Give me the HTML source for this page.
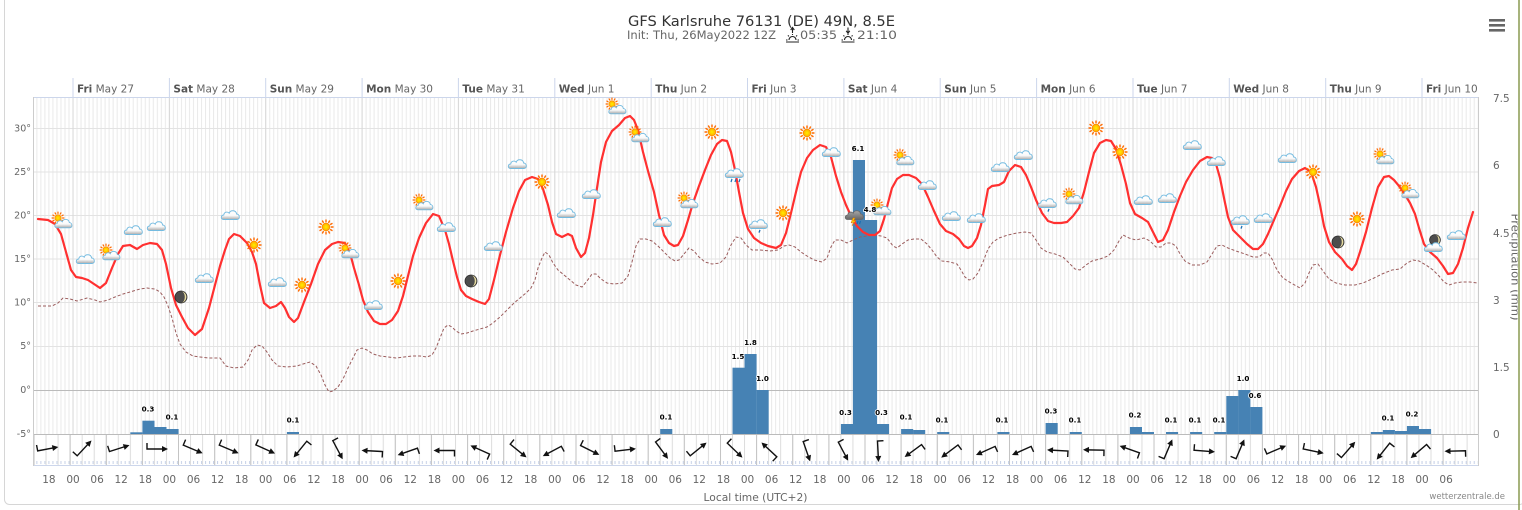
<!DOCTYPE html>
<html><head><meta charset="utf-8"><style>
html,body{margin:0;padding:0;background:#fff;}
svg{display:block;}
text{font-family:"DejaVu Sans","Liberation Sans",sans-serif;}
</style></head><body>
<svg width="1522" height="510" viewBox="0 0 1522 510" xmlns="http://www.w3.org/2000/svg">
<defs>
<pattern id="vg" patternUnits="userSpaceOnUse" x="72.5" y="0" width="4.015" height="600"><rect width="1" height="600" fill="#e9e9e9"/></pattern>
<pattern id="wg" patternUnits="userSpaceOnUse" x="33.5" y="0" width="12.043" height="600"><rect width="1" height="600" fill="#dcdcdc"/></pattern>
<pattern id="tk" patternUnits="userSpaceOnUse" x="72.5" y="461" width="4.015" height="600"><rect width="1" height="3" fill="#c5d0e6"/></pattern>
<linearGradient id="cg" x1="0" y1="0" x2="0" y2="1"><stop offset="0" stop-color="#fff"/><stop offset="0.55" stop-color="#fafafa"/><stop offset="1" stop-color="#a8a8a8"/></linearGradient>
<linearGradient id="dg" x1="0" y1="0" x2="0" y2="1"><stop offset="0" stop-color="#a8a8a8"/><stop offset="1" stop-color="#666"/></linearGradient>
<radialGradient id="sg"><stop offset="0" stop-color="#fff000"/><stop offset="1" stop-color="#ffaa00"/></radialGradient>
<clipPath id="rc1"><rect x="1490" y="0" width="27.5" height="510"/></clipPath>
<g id="cl"><path d="M-7.5,4.5 C-10.5,4.5 -10.5,0.2 -7.2,0 C-7,-3 -3.5,-3.8 -1.8,-1.8 C-0.8,-5.2 5,-5.2 5.6,-1 C8.8,-1 9.5,4.5 6,4.5 Z" fill="url(#cg)" stroke="#74bbe0" stroke-width="0.9"/></g>
<g id="sun"><path d="M4.8,0L7.5,0 M4.16,2.4L6.5,3.75 M2.4,4.16L3.75,6.5 M0,4.8L0,7.5 M-2.4,4.16L-3.75,6.5 M-4.16,2.4L-6.5,3.75 M-4.8,0L-7.5,0 M-4.16,-2.4L-6.5,-3.75 M-2.4,-4.16L-3.75,-6.5 M0,-4.8L0,-7.5 M2.4,-4.16L3.75,-6.5 M4.16,-2.4L6.5,-3.75" stroke="#ff6a00" stroke-width="1.4"/><circle r="3.8" fill="url(#sg)" stroke="#ff8c00" stroke-width="0.8"/></g>
<g id="sc"><use href="#sun" transform="translate(-3,-3) scale(0.85)"/><use href="#cl" transform="translate(3,2.5) scale(0.95)"/></g>
<g id="mn"><circle r="6" fill="#4d4d4d" stroke="#2a2a2a" stroke-width="0.8"/><path d="M0.5,-5.9 A6,6 0 0 1 0.5,5.9 A4,6 0 0 0 0.5,-5.9 Z" fill="#e6dba0"/></g>
<g id="mc"><use href="#mn" transform="translate(0,-3) scale(0.9)"/><use href="#cl" transform="translate(-1,4)"/></g>
<g id="rc"><use href="#cl"/><path d="M-3,6 l-1,3 M1,6 l-1,3 M5,6 l-1,3" stroke="#1a6fb5" stroke-width="1.2"/></g>
<g id="lr"><use href="#cl"/><path d="M1,6 l-1,2.6" stroke="#1a6fb5" stroke-width="1.3"/></g>
<g id="th"><path d="M-7.5,4.5 C-10.5,4.5 -10.5,0.2 -7.2,0 C-7,-3 -3.5,-3.8 -1.8,-1.8 C-0.8,-5.2 5,-5.2 5.6,-1 C8.8,-1 9.5,4.5 6,4.5 Z" fill="url(#dg)" stroke="#666" stroke-width="0.8"/><path d="M-2,3 L-4,8 L-1.5,7 L-3,11 L1,5 L-1.5,6 L0,3 Z" fill="#ffcc00" stroke="#e07000" stroke-width="0.5"/><path d="M3,6 l-1,3 M5.5,6 l-1,3" stroke="#1a6fb5" stroke-width="1.2"/></g>
<g id="wa"><path d="M-10,-6 L-10,0 L7,0" fill="none" stroke="#111" stroke-width="1.4"/><path d="M11,0 L5,-3 L5,3 Z" fill="#111"/></g>
<g id="sr"><path d="M-6.5,2 H6.5 M-3.5,0 A3.5,3.5 0 0 1 3.5,0 M-6.5,0 H-5 M5,0 H6.5 M-4.6,-4.6 L-3.6,-3.6 M4.6,-4.6 L3.6,-3.6 M0,-5 V-6" fill="none" stroke="#222" stroke-width="1.1"/></g>
</defs>

<rect width="1522" height="510" fill="#fff"/>
<rect x="4.5" y="-10" width="1520" height="514.5" rx="5" fill="none" stroke="#d6d6d6"/>
<line x1="1519" y1="0" x2="1519" y2="510" stroke="#8a9a50" stroke-width="1.5"/>

<!-- title -->
<text x="628" y="26" font-size="14.5" fill="#333" textLength="267" lengthAdjust="spacingAndGlyphs">GFS Karlsruhe 76131 (DE) 49N, 8.5E</text>
<text x="627" y="39" font-size="11.5" fill="#666" textLength="149" lengthAdjust="spacingAndGlyphs">Init: Thu, 26May2022 12Z</text>
<use href="#sr" x="792.5" y="40"/>
<path d="M792.5,33 V28 M790.7,30 L792.5,27.5 L794.3,30" fill="none" stroke="#222" stroke-width="1.1"/>
<text x="800" y="39" font-size="11.5" fill="#666" textLength="37" lengthAdjust="spacingAndGlyphs">05:35</text>
<use href="#sr" x="848" y="40"/>
<path d="M848,27.5 V33 M846.2,30.8 L848,33.3 L849.8,30.8" fill="none" stroke="#222" stroke-width="1.1"/>
<text x="857" y="39" font-size="11.5" fill="#666" textLength="40" lengthAdjust="spacingAndGlyphs">21:10</text>

<!-- menu -->
<rect x="1489" y="19" width="16" height="2.6" fill="#666"/>
<rect x="1489" y="24" width="16" height="2.6" fill="#666"/>
<rect x="1489" y="29" width="16" height="2.6" fill="#666"/>

<!-- grid -->
<rect x="33" y="97" width="1445" height="337" fill="url(#vg)"/>
<g stroke="#e3e3e3" stroke-width="1">
<line x1="33" y1="128.5" x2="1478" y2="128.5"/>
<line x1="33" y1="172" x2="1478" y2="172"/>
<line x1="33" y1="215.5" x2="1478" y2="215.5"/>
<line x1="33" y1="259" x2="1478" y2="259"/>
<line x1="33" y1="302.5" x2="1478" y2="302.5"/>
<line x1="33" y1="346.5" x2="1478" y2="346.5"/>
</g>
<g stroke="#d8d8d8" stroke-width="1">
<line x1="73" y1="97" x2="73" y2="434"/><line x1="169.4" y1="97" x2="169.4" y2="434"/><line x1="265.7" y1="97" x2="265.7" y2="434"/><line x1="362.1" y1="97" x2="362.1" y2="434"/><line x1="458.4" y1="97" x2="458.4" y2="434"/><line x1="554.8" y1="97" x2="554.8" y2="434"/><line x1="651.2" y1="97" x2="651.2" y2="434"/><line x1="747.5" y1="97" x2="747.5" y2="434"/><line x1="843.9" y1="97" x2="843.9" y2="434"/><line x1="940.2" y1="97" x2="940.2" y2="434"/><line x1="1036.6" y1="97" x2="1036.6" y2="434"/><line x1="1133" y1="97" x2="1133" y2="434"/><line x1="1229.3" y1="97" x2="1229.3" y2="434"/><line x1="1325.7" y1="97" x2="1325.7" y2="434"/><line x1="1422" y1="97" x2="1422" y2="434"/>
</g>
<g stroke="#ccd6eb" stroke-width="1">
<line x1="73" y1="78" x2="73" y2="97"/><line x1="169.4" y1="78" x2="169.4" y2="97"/><line x1="265.7" y1="78" x2="265.7" y2="97"/><line x1="362.1" y1="78" x2="362.1" y2="97"/><line x1="458.4" y1="78" x2="458.4" y2="97"/><line x1="554.8" y1="78" x2="554.8" y2="97"/><line x1="651.2" y1="78" x2="651.2" y2="97"/><line x1="747.5" y1="78" x2="747.5" y2="97"/><line x1="843.9" y1="78" x2="843.9" y2="97"/><line x1="940.2" y1="78" x2="940.2" y2="97"/><line x1="1036.6" y1="78" x2="1036.6" y2="97"/><line x1="1133" y1="78" x2="1133" y2="97"/><line x1="1229.3" y1="78" x2="1229.3" y2="97"/><line x1="1325.7" y1="78" x2="1325.7" y2="97"/><line x1="1422" y1="78" x2="1422" y2="97"/>
<line x1="33" y1="97.5" x2="1478" y2="97.5"/>
</g>
<line x1="33" y1="390.5" x2="1478" y2="390.5" stroke="#bbb"/>

<!-- precipitation bars -->
<g fill="#4682b4">
<rect x="130.3" y="432.3" width="12.1" height="1.7"/>
<rect x="142.4" y="420.7" width="12.1" height="13.3"/>
<rect x="154.4" y="427" width="12.1" height="7"/>
<rect x="166.5" y="429" width="12.1" height="5"/>
<rect x="286.9" y="432" width="12.1" height="2"/>
<rect x="660.2" y="429" width="12.1" height="5"/>
<rect x="732.5" y="367.7" width="12.1" height="66.3"/>
<rect x="744.5" y="354" width="12.1" height="80"/>
<rect x="756.6" y="390" width="12.1" height="44"/>
<rect x="840.9" y="424" width="12.1" height="10"/>
<rect x="852.9" y="160" width="12.1" height="274"/>
<rect x="865" y="220" width="12.1" height="214"/>
<rect x="877" y="424" width="12.1" height="10"/>
<rect x="901.1" y="429" width="12.1" height="5"/>
<rect x="913.1" y="430" width="12.1" height="4"/>
<rect x="937.2" y="432" width="12.1" height="2"/>
<rect x="997.4" y="432" width="12.1" height="2"/>
<rect x="1045.6" y="423" width="12.1" height="11"/>
<rect x="1069.7" y="432" width="12.1" height="2"/>
<rect x="1129.9" y="427" width="12.1" height="7"/>
<rect x="1141.9" y="432" width="12.1" height="2"/>
<rect x="1166" y="432" width="12.1" height="2"/>
<rect x="1190.1" y="432" width="12.1" height="2"/>
<rect x="1214.2" y="432" width="12.1" height="2"/>
<rect x="1226.3" y="396" width="12.1" height="38"/>
<rect x="1238.3" y="390" width="12.1" height="44"/>
<rect x="1250.3" y="407" width="12.1" height="27"/>
<rect x="1370.8" y="432" width="12.1" height="2"/>
<rect x="1382.8" y="430" width="12.1" height="4"/>
<rect x="1394.9" y="431" width="12.1" height="3"/>
<rect x="1406.9" y="426" width="12.1" height="8"/>
<rect x="1419" y="429" width="12.1" height="5"/>
</g>

<!-- dewpoint -->
<polyline fill="none" stroke="#9b5c5c" stroke-width="1" stroke-dasharray="3,2" points="38,306 52,306 58,303 63,298 70,299 77,301 87,298 95,300 100,302 108,300 115,297 123,294 130,292 140,289 147,288 155,289 160,292 164,297 168,306 172,318 176,333 180,344 186,352 193,356 200,357 208,358 215,358 220,358 226,366 234,368 243,367 248,360 252,350 257,345 262,346 267,352 272,360 278,366 287,367 297,366 303,364 310,362 316,366 321,375 325,385 329,392 333,391 338,387 343,379 348,368 353,358 357,350 362,348 367,350 373,354 380,356 388,357 396,358 404,357 412,356 420,356 427,357 432,355 436,348 440,338 444,328 448,325 452,327 456,331 461,334 467,333 473,331 480,329 487,327 493,323 500,317 507,310 514,303 520,298 526,293 531,288 535,280 538,268 542,258 545,252 549,255 553,263 558,270 564,275 570,280 576,285 582,287 587,281 592,274 596,274 601,279 607,283 614,284 622,283 628,276 632,262 636,246 640,239 646,239 652,241 658,246 664,252 670,258 675,261 679,260 684,254 689,248 694,251 699,257 705,262 712,264 720,263 726,257 731,245 736,237 741,238 746,245 752,250 760,250 770,251 778,250 784,246 789,245 795,247 801,252 807,256 814,260 822,262 827,258 831,247 835,240 841,240 847,243 853,240 860,237 867,236 874,235 881,236 887,238 893,246 897,248 902,244 908,240 914,239 921,239 927,244 932,250 937,257 942,261 950,262 957,264 961,270 965,277 969,280 973,279 978,273 983,262 988,249 993,242 999,238 1008,235 1017,233 1025,232 1031,233 1036,240 1041,248 1047,252 1055,254 1063,257 1069,263 1075,269 1080,270 1086,265 1092,261 1100,259 1108,256 1114,250 1119,241 1123,235 1129,238 1136,240 1144,238 1150,241 1156,247 1161,247 1166,243 1171,243 1176,246 1180,254 1185,261 1192,265 1200,265 1207,262 1212,254 1217,246 1222,245 1228,248 1236,251 1245,254 1253,257 1259,257 1264,253 1268,253 1272,259 1277,270 1283,278 1291,283 1300,288 1305,283 1309,273 1313,265 1318,264 1323,271 1329,279 1336,283 1345,285 1355,285 1363,283 1372,279 1382,274 1392,270 1400,269 1407,263 1413,260 1419,261 1426,265 1433,270 1439,276 1444,282 1449,285 1455,283 1462,282 1470,282 1478,283"/>

<!-- temperature -->
<polyline fill="none" stroke="#ff3030" stroke-width="2.2" stroke-linejoin="round" stroke-linecap="round" points="38,219 48,220 55,224 61,234 66,252 71,270 76,277 82,278 88,280 94,284 100,288 106,283 112,268 118,254 123,246 130,245 137,249 143,245 150,243 157,244 162,250 166,264 171,288 176,305 182,317 188,328 195,335 202,329 209,308 215,285 220,266 225,250 229,239 234,234 240,236 247,243 252,252 256,264 260,285 264,303 270,308 276,306 281,302 285,308 289,317 294,322 298,318 304,302 311,284 318,264 325,250 332,244 338,242 345,243 350,253 354,268 359,285 363,300 368,312 374,321 380,324 386,324 392,320 398,311 403,296 408,276 413,256 419,238 426,223 433,214 439,216 445,230 449,244 453,261 457,277 461,290 466,296 472,299 479,302 485,304 489,299 494,280 500,255 506,232 513,208 519,191 525,180 532,177 538,179 543,189 548,205 552,222 556,234 562,237 568,234 572,236 576,248 581,257 585,253 589,238 593,215 597,188 601,162 606,142 612,131 619,125 625,118 630,116 634,120 638,130 643,152 648,171 654,192 659,215 664,235 669,243 674,246 678,245 683,236 688,220 693,203 699,186 705,170 711,155 717,144 722,140 727,141 731,152 735,170 739,192 743,213 748,229 754,238 761,243 768,246 776,248 781,245 786,233 791,213 796,192 801,172 807,158 813,150 820,145 826,147 831,157 836,176 841,192 846,205 851,216 857,226 863,232 869,235 875,235 880,231 884,219 888,203 892,188 897,179 903,175 909,175 916,178 922,184 928,197 934,211 940,224 946,231 953,234 959,239 964,246 968,248 972,246 977,238 981,225 985,205 988,189 992,186 999,185 1004,182 1009,171 1015,165 1021,167 1026,175 1031,187 1036,200 1042,213 1048,221 1054,223 1061,223 1067,222 1073,216 1079,208 1084,192 1089,172 1094,153 1100,143 1106,140 1111,141 1116,149 1121,165 1126,184 1130,203 1135,214 1142,218 1148,222 1153,232 1158,242 1163,240 1168,230 1174,212 1180,196 1186,182 1193,170 1200,161 1207,157 1212,158 1216,164 1220,178 1224,198 1228,217 1233,230 1240,237 1247,244 1253,249 1258,249 1263,244 1268,234 1274,220 1280,206 1286,191 1292,179 1299,171 1305,168 1311,172 1316,187 1320,205 1324,226 1329,242 1335,252 1342,259 1347,266 1352,270 1356,264 1360,252 1366,232 1372,208 1378,187 1384,177 1389,176 1394,180 1399,186 1404,193 1410,203 1415,214 1419,228 1424,244 1430,252 1437,258 1443,266 1448,274 1453,273 1458,264 1463,248 1468,228 1473,212"/>

<!-- weather icons -->
<use href="#sc" x="61" y="221"/><use href="#cl" x="86" y="259"/><use href="#sc" x="109" y="253"/><use href="#cl" x="134" y="230"/><use href="#cl" x="157" y="226"/><use href="#mn" x="181" y="297"/><use href="#cl" x="205" y="278"/><use href="#cl" x="231" y="215"/><use href="#sun" x="254" y="245"/><use href="#cl" x="278" y="282"/><use href="#sun" x="302" y="285"/><use href="#sun" x="326" y="227"/><use href="#sc" x="348" y="251"/><use href="#cl" x="374" y="305"/><use href="#sun" x="398" y="281"/><use href="#sc" x="422" y="203"/><use href="#cl" x="447" y="227"/><use href="#mn" x="471" y="281"/><use href="#cl" x="494" y="246"/><use href="#cl" x="518" y="164"/><use href="#sun" x="542" y="182"/><use href="#cl" x="567" y="213"/><use href="#cl" x="592" y="194"/><use href="#sc" x="615" y="107"/><use href="#sc" x="638" y="135"/><use href="#cl" x="663" y="222"/><use href="#sc" x="687" y="201"/><use href="#sun" x="712" y="132"/><use href="#rc" x="735" y="173"/><use href="#lr" x="759" y="224"/><use href="#sun" x="783" y="213"/><use href="#sun" x="807" y="133"/><use href="#cl" x="832" y="152"/><use href="#th" x="855" y="215"/><use href="#sc" x="880" y="208"/><use href="#sc" x="903" y="158"/><use href="#cl" x="928" y="185"/><use href="#cl" x="952" y="216"/><use href="#cl" x="977" y="218"/><use href="#cl" x="1001" y="167"/><use href="#cl" x="1024" y="155"/><use href="#lr" x="1048" y="203"/><use href="#sc" x="1072" y="197"/><use href="#sun" x="1096" y="128"/><use href="#sun" x="1120" y="152"/><use href="#cl" x="1144" y="200"/><use href="#cl" x="1168" y="198"/><use href="#cl" x="1193" y="145"/><use href="#cl" x="1217" y="161"/><use href="#lr" x="1241" y="220"/><use href="#cl" x="1264" y="218"/><use href="#cl" x="1288" y="158"/><use href="#sun" x="1313" y="172"/><use href="#mn" x="1338" y="242"/><use href="#sun" x="1357" y="219"/><use href="#sc" x="1383" y="157"/><use href="#sc" x="1408" y="191"/><use href="#mc" x="1435" y="243"/><use href="#cl" x="1457" y="235"/>

<!-- bar labels -->
<g font-size="7.2" font-weight="bold" fill="#000" text-anchor="middle" stroke="#fff" stroke-width="1.5" paint-order="stroke">
<text x="148" y="411.5">0.3</text><text x="172" y="419.5">0.1</text><text x="293" y="422.5">0.1</text><text x="666" y="419.5">0.1</text>
<text x="738" y="359">1.5</text><text x="750.5" y="345">1.8</text><text x="762.5" y="381">1.0</text>
<text x="845.5" y="415">0.3</text><text x="858" y="151">6.1</text><text x="870" y="212">4.8</text><text x="881.5" y="415">0.3</text>
<text x="906" y="419.5">0.1</text><text x="942" y="422.5">0.1</text><text x="1002" y="422.5">0.1</text><text x="1051" y="413.5">0.3</text><text x="1075" y="422.5">0.1</text><text x="1135" y="417.5">0.2</text><text x="1171" y="422.5">0.1</text><text x="1195" y="422.5">0.1</text><text x="1219" y="422.5">0.1</text>
<text x="1243" y="381">1.0</text><text x="1255" y="398">0.6</text><text x="1388" y="420.5">0.1</text><text x="1412" y="416.5">0.2</text>
</g>

<!-- wind row -->
<rect x="33" y="434" width="1445" height="31" fill="#fff"/>
<rect x="33" y="434" width="1445" height="31" fill="url(#wg)"/>
<g stroke="#c4c4c4" stroke-width="1">
<line x1="34" y1="434" x2="34" y2="465"/><line x1="70.1" y1="434" x2="70.1" y2="465"/><line x1="106.3" y1="434" x2="106.3" y2="465"/><line x1="142.4" y1="434" x2="142.4" y2="465"/><line x1="178.5" y1="434" x2="178.5" y2="465"/><line x1="214.7" y1="434" x2="214.7" y2="465"/><line x1="250.8" y1="434" x2="250.8" y2="465"/><line x1="286.9" y1="434" x2="286.9" y2="465"/><line x1="323" y1="434" x2="323" y2="465"/><line x1="359.2" y1="434" x2="359.2" y2="465"/><line x1="395.3" y1="434" x2="395.3" y2="465"/><line x1="431.4" y1="434" x2="431.4" y2="465"/><line x1="467.6" y1="434" x2="467.6" y2="465"/><line x1="503.7" y1="434" x2="503.7" y2="465"/><line x1="539.8" y1="434" x2="539.8" y2="465"/><line x1="576" y1="434" x2="576" y2="465"/><line x1="612.1" y1="434" x2="612.1" y2="465"/><line x1="648.2" y1="434" x2="648.2" y2="465"/><line x1="684.3" y1="434" x2="684.3" y2="465"/><line x1="720.5" y1="434" x2="720.5" y2="465"/><line x1="756.6" y1="434" x2="756.6" y2="465"/><line x1="792.7" y1="434" x2="792.7" y2="465"/><line x1="828.9" y1="434" x2="828.9" y2="465"/><line x1="865" y1="434" x2="865" y2="465"/><line x1="901.1" y1="434" x2="901.1" y2="465"/><line x1="937.3" y1="434" x2="937.3" y2="465"/><line x1="973.4" y1="434" x2="973.4" y2="465"/><line x1="1009.5" y1="434" x2="1009.5" y2="465"/><line x1="1045.6" y1="434" x2="1045.6" y2="465"/><line x1="1081.8" y1="434" x2="1081.8" y2="465"/><line x1="1117.9" y1="434" x2="1117.9" y2="465"/><line x1="1154" y1="434" x2="1154" y2="465"/><line x1="1190.2" y1="434" x2="1190.2" y2="465"/><line x1="1226.3" y1="434" x2="1226.3" y2="465"/><line x1="1262.4" y1="434" x2="1262.4" y2="465"/><line x1="1298.6" y1="434" x2="1298.6" y2="465"/><line x1="1334.7" y1="434" x2="1334.7" y2="465"/><line x1="1370.8" y1="434" x2="1370.8" y2="465"/><line x1="1406.9" y1="434" x2="1406.9" y2="465"/><line x1="1443.1" y1="434" x2="1443.1" y2="465"/>
</g>
<line x1="33" y1="434.5" x2="1478" y2="434.5" stroke="#bbb"/>
<rect x="33" y="461" width="1445" height="3" fill="url(#tk)"/>
<line x1="33" y1="465.5" x2="1478" y2="465.5" stroke="#ccd6eb"/>
<line x1="33.5" y1="97" x2="33.5" y2="466" stroke="#ccc"/>
<line x1="1478.5" y1="97" x2="1478.5" y2="466" stroke="#ccc"/>

<!-- wind arrows -->
<use href="#wa" transform="translate(47.5,449) rotate(-10.8)"/>
<use href="#wa" transform="translate(84,448.5) rotate(-47)"/>
<use href="#wa" transform="translate(119,448.5) rotate(-17.6)"/>
<use href="#wa" transform="translate(157,449) rotate(0)"/>
<use href="#wa" transform="translate(192.5,449) rotate(22.8)"/>
<use href="#wa" transform="translate(228.5,449) rotate(22.8)"/>
<use href="#wa" transform="translate(265,449) rotate(24)"/>
<use href="#wa" transform="translate(300.5,449) rotate(129)"/>
<use href="#wa" transform="translate(337.5,449.5) rotate(62)"/>
<use href="#wa" transform="translate(372.5,451) rotate(183)"/>
<use href="#wa" transform="translate(408,451.5) rotate(160.7)"/>
<use href="#wa" transform="translate(444.5,450.5) rotate(180)"/>
<use href="#wa" transform="translate(480.5,450) rotate(204)"/>
<use href="#wa" transform="translate(518,450.5) rotate(39)"/>
<use href="#wa" transform="translate(552.5,451) rotate(152)"/>
<use href="#wa" transform="translate(589.5,450) rotate(26.6)"/>
<use href="#wa" transform="translate(625,450) rotate(-6.7)"/>
<use href="#wa" transform="translate(661.5,450) rotate(53.4)"/>
<use href="#wa" transform="translate(698,449.5) rotate(-39)"/>
<use href="#wa" transform="translate(734.5,450) rotate(43.8)"/>
<use href="#wa" transform="translate(769.5,450) rotate(223)"/>
<use href="#wa" transform="translate(806.5,451) rotate(70.7)"/>
<use href="#wa" transform="translate(843,451) rotate(62)"/>
<use href="#wa" transform="translate(878,451) rotate(87)"/>
<use href="#wa" transform="translate(913.5,450.5) rotate(143.7)"/>
<use href="#wa" transform="translate(950,451) rotate(143)"/>
<use href="#wa" transform="translate(986,450.5) rotate(155.8)"/>
<use href="#wa" transform="translate(1022,450.5) rotate(155.8)"/>
<use href="#wa" transform="translate(1058,450.5) rotate(183)"/>
<use href="#wa" transform="translate(1094,450) rotate(181)"/>
<use href="#wa" transform="translate(1130,449.5) rotate(199.3)"/>
<use href="#wa" transform="translate(1168,449.5) rotate(-67)"/>
<use href="#wa" transform="translate(1204,451) rotate(4.6)"/>
<use href="#wa" transform="translate(1240,449.5) rotate(-67)"/>
<use href="#wa" transform="translate(1276,450) rotate(-23)"/>
<use href="#wa" transform="translate(1313,451) rotate(12)"/>
<use href="#wa" transform="translate(1348,450) rotate(-48.8)"/>
<use href="#wa" transform="translate(1383.5,451) rotate(128.4)"/>
<use href="#wa" transform="translate(1419,451) rotate(139.4)"/>
<use href="#wa" transform="translate(1455.5,451) rotate(178.6)"/>

<!-- date labels -->
<g font-size="10.5" fill="#666">
<text x="77" y="92.5"><tspan font-weight="bold" fill="#555">Fri</tspan> May 27</text>
<text x="173.4" y="92.5"><tspan font-weight="bold" fill="#555">Sat</tspan> May 28</text>
<text x="269.7" y="92.5"><tspan font-weight="bold" fill="#555">Sun</tspan> May 29</text>
<text x="366.1" y="92.5"><tspan font-weight="bold" fill="#555">Mon</tspan> May 30</text>
<text x="462.4" y="92.5"><tspan font-weight="bold" fill="#555">Tue</tspan> May 31</text>
<text x="558.8" y="92.5"><tspan font-weight="bold" fill="#555">Wed</tspan> Jun 1</text>
<text x="655.2" y="92.5"><tspan font-weight="bold" fill="#555">Thu</tspan> Jun 2</text>
<text x="751.5" y="92.5"><tspan font-weight="bold" fill="#555">Fri</tspan> Jun 3</text>
<text x="847.9" y="92.5"><tspan font-weight="bold" fill="#555">Sat</tspan> Jun 4</text>
<text x="944.2" y="92.5"><tspan font-weight="bold" fill="#555">Sun</tspan> Jun 5</text>
<text x="1040.6" y="92.5"><tspan font-weight="bold" fill="#555">Mon</tspan> Jun 6</text>
<text x="1137" y="92.5"><tspan font-weight="bold" fill="#555">Tue</tspan> Jun 7</text>
<text x="1233.3" y="92.5"><tspan font-weight="bold" fill="#555">Wed</tspan> Jun 8</text>
<text x="1329.7" y="92.5"><tspan font-weight="bold" fill="#555">Thu</tspan> Jun 9</text>
<text x="1426" y="92.5"><tspan font-weight="bold" fill="#555">Fri</tspan> Jun 10</text>
</g>

<!-- left axis -->
<g font-size="9.5" fill="#666" text-anchor="end">
<text x="31" y="131.5">30°</text><text x="31" y="175">25°</text><text x="31" y="218.5">20°</text><text x="31" y="262">15°</text><text x="31" y="305.5">10°</text><text x="31" y="349">5°</text><text x="31" y="393">0°</text><text x="31" y="437">-5°</text>
</g>
<!-- right axis -->
<g font-size="10.5" fill="#666">
<text x="1493" y="102">7.5</text><text x="1493" y="169">6</text><text x="1493" y="237">4.5</text><text x="1493" y="304">3</text><text x="1493" y="371">1.5</text><text x="1493" y="438">0</text>
</g>
<g clip-path="url(#rc1)"><text transform="translate(1511.5,267) rotate(90)" text-anchor="middle" font-size="11.5" fill="#666">Precipitation (mm)</text></g>

<!-- time labels -->
<g font-size="10.5" fill="#666" text-anchor="middle">
<text x="48.9" y="483">18</text><text x="73" y="483">00</text><text x="97.1" y="483">06</text><text x="121.2" y="483">12</text><text x="145.3" y="483">18</text><text x="169.4" y="483">00</text><text x="193.5" y="483">06</text><text x="217.5" y="483">12</text><text x="241.6" y="483">18</text><text x="265.7" y="483">00</text><text x="289.8" y="483">06</text><text x="313.9" y="483">12</text><text x="338" y="483">18</text><text x="362.1" y="483">00</text><text x="386.2" y="483">06</text><text x="410.3" y="483">12</text><text x="434.4" y="483">18</text><text x="458.4" y="483">00</text><text x="482.5" y="483">06</text><text x="506.6" y="483">12</text><text x="530.7" y="483">18</text><text x="554.8" y="483">00</text><text x="578.9" y="483">06</text><text x="603" y="483">12</text><text x="627.1" y="483">18</text><text x="651.2" y="483">00</text><text x="675.3" y="483">06</text><text x="699.3" y="483">12</text><text x="723.4" y="483">18</text><text x="747.5" y="483">00</text><text x="771.6" y="483">06</text><text x="795.7" y="483">12</text><text x="819.8" y="483">18</text><text x="843.9" y="483">00</text><text x="868" y="483">06</text><text x="892.1" y="483">12</text><text x="916.2" y="483">18</text><text x="940.2" y="483">00</text><text x="964.3" y="483">06</text><text x="988.4" y="483">12</text><text x="1012.5" y="483">18</text><text x="1036.6" y="483">00</text><text x="1060.7" y="483">06</text><text x="1084.8" y="483">12</text><text x="1108.9" y="483">18</text><text x="1133" y="483">00</text><text x="1157.1" y="483">06</text><text x="1181.1" y="483">12</text><text x="1205.2" y="483">18</text><text x="1229.3" y="483">00</text><text x="1253.4" y="483">06</text><text x="1277.5" y="483">12</text><text x="1301.6" y="483">18</text><text x="1325.7" y="483">00</text><text x="1349.8" y="483">06</text><text x="1373.9" y="483">12</text><text x="1398" y="483">18</text><text x="1422" y="483">00</text><text x="1446.1" y="483">06</text>
</g>
<text x="755.5" y="501" font-size="10.7" fill="#666" text-anchor="middle">Local time (UTC+2)</text>
<text x="1505" y="499" font-size="8.5" fill="#888" text-anchor="end">wetterzentrale.de</text>
</svg>
</body></html>
